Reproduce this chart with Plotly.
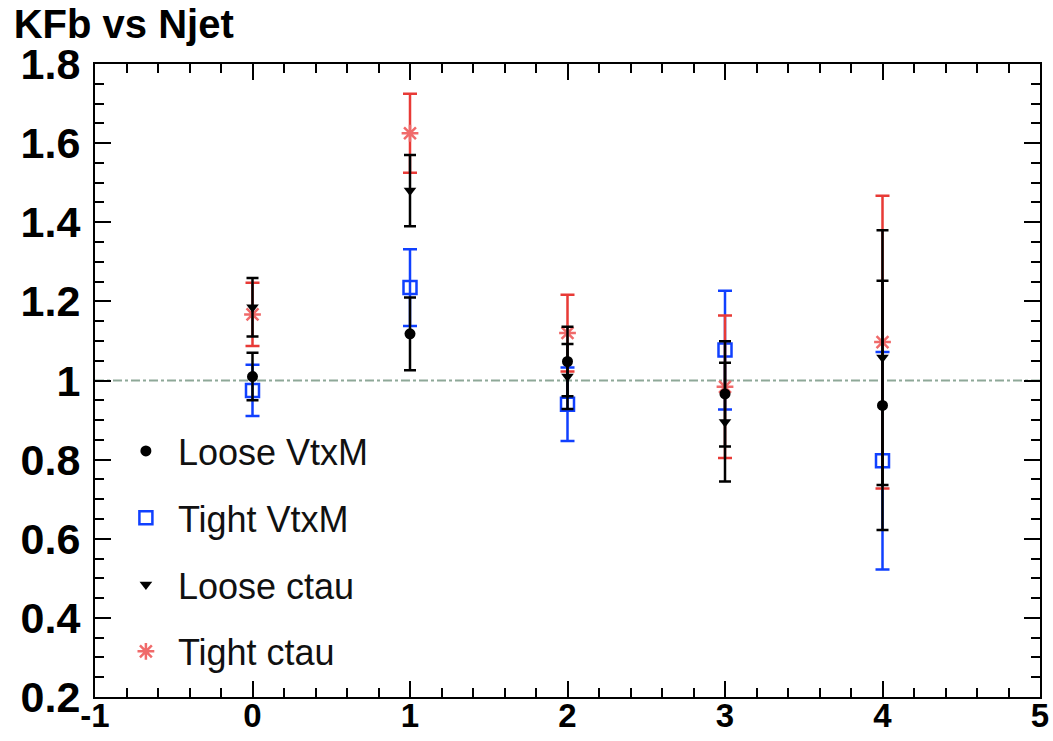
import plotly.graph_objects as go

njet = [0, 1, 2, 3, 4]

loose_vtxm = [1.010, 1.118, 1.048, 0.966, 0.937]
loose_vtxm_err = [0.060, 0.092, 0.088, 0.133, 0.315]

tight_vtxm = [0.975, 1.235, 0.940, 1.077, 0.797]
tight_vtxm_err = [0.065, 0.097, 0.093, 0.150, 0.275]

loose_ctau = [1.185, 1.480, 1.010, 0.895, 1.058]
loose_ctau_err = [0.074, 0.090, 0.082, 0.150, 0.322]

tight_ctau = [1.167, 1.625, 1.120, 0.984, 1.097]
tight_ctau_err = [0.080, 0.100, 0.097, 0.180, 0.370]

x_ticks = [-1, 0, 1, 2, 3, 4, 5]
x_ticktext = ["-1", "0", "1", "2", "3", "4", "5"]
y_ticks = [0.2, 0.4, 0.6, 0.8, 1.0, 1.2, 1.4, 1.6, 1.8]
y_ticktext = ["0.2", "0.4", "0.6", "0.8", "1", "1.2", "1.4", "1.6", "1.8"]

BLACK = "#000000"
BLUE = "#1040ff"
RED = "#e83a36"
RED_MARK = "#f06a6a"

fig = go.Figure()

# drawing order: blue, red, black (legend order set via legendrank)
fig.add_trace(go.Scatter(
    x=njet, y=tight_vtxm, mode="markers", name="Tight VtxM",
    legendrank=2, legendgroup="b",
    marker=dict(symbol="square-open", size=13, color=BLUE, line=dict(width=2.5, color=BLUE)),
    error_y=dict(type="data", array=tight_vtxm_err, color=BLUE, thickness=2.5, width=7),
))
fig.add_trace(go.Scatter(
    x=njet, y=tight_ctau, mode="markers", name="Tight ctau",
    legendrank=4, legendgroup="d",
    marker=dict(symbol="asterisk-open", size=14, color=RED_MARK, line=dict(width=2.5, color=RED_MARK)),
    error_y=dict(type="data", array=tight_ctau_err, color=RED, thickness=2.5, width=7),
))
fig.add_trace(go.Scatter(
    x=njet, y=loose_vtxm, mode="markers", name="Loose VtxM",
    legendrank=1, legendgroup="a",
    marker=dict(symbol="circle", size=11, color=BLACK),
    error_y=dict(type="data", array=loose_vtxm_err, color=BLACK, thickness=2.5, width=6),
))
fig.add_trace(go.Scatter(
    x=njet, y=loose_ctau, mode="markers", name="Loose ctau",
    legendrank=3, legendgroup="c",
    marker=dict(symbol="triangle-down", size=11, color=BLACK),
    error_y=dict(type="data", array=loose_ctau_err, color=BLACK, thickness=2.5, width=6),
))

fig.add_hline(y=1, line=dict(color="#8ea898", width=2, dash="dashdot"), layer="below")

axis_common = dict(
    showgrid=False, zeroline=False, showline=True, linecolor="black", linewidth=2,
    mirror="ticks", ticks="inside", tickcolor="black", tickwidth=2, automargin=False,
)

fig.update_xaxes(
    range=[-1, 5], tickvals=x_ticks, ticktext=x_ticktext, ticklen=16,
    tickfont=dict(family="Liberation Sans", size=33, color="black", weight="bold"),
    ticklabelstandoff=-12,
    minor=dict(dtick=0.2, ticks="inside", ticklen=9, tickcolor="black", tickwidth=2),
    **axis_common,
)
fig.update_yaxes(
    range=[0.2, 1.8], tickvals=y_ticks, ticktext=y_ticktext, ticklen=16,
    tickfont=dict(family="Liberation Sans", size=43, color="black", weight="bold"),
    ticklabelstandoff=4,
    minor=dict(dtick=0.05, ticks="inside", ticklen=9, tickcolor="black", tickwidth=2),
    **axis_common,
)

fig.update_layout(
    width=1053, height=741,
    margin=dict(l=95, r=13, t=64, b=44),
    paper_bgcolor="white", plot_bgcolor="white",
    title=dict(text="KFb vs Njet", x=0.013, xanchor="left", xref="container",
               y=0.987, yanchor="top", yref="container",
               font=dict(family="Liberation Sans", size=40, color="black", weight="bold")),
    showlegend=True,
    legend=dict(x=0.020, y=0.436, xanchor="left", yanchor="top",
                bgcolor="rgba(0,0,0,0)", borderwidth=0, itemwidth=54,
                tracegroupgap=17, traceorder="grouped",
                font=dict(family="Liberation Sans", size=36, color="#111111")),
)

fig.write_html("out.html")
